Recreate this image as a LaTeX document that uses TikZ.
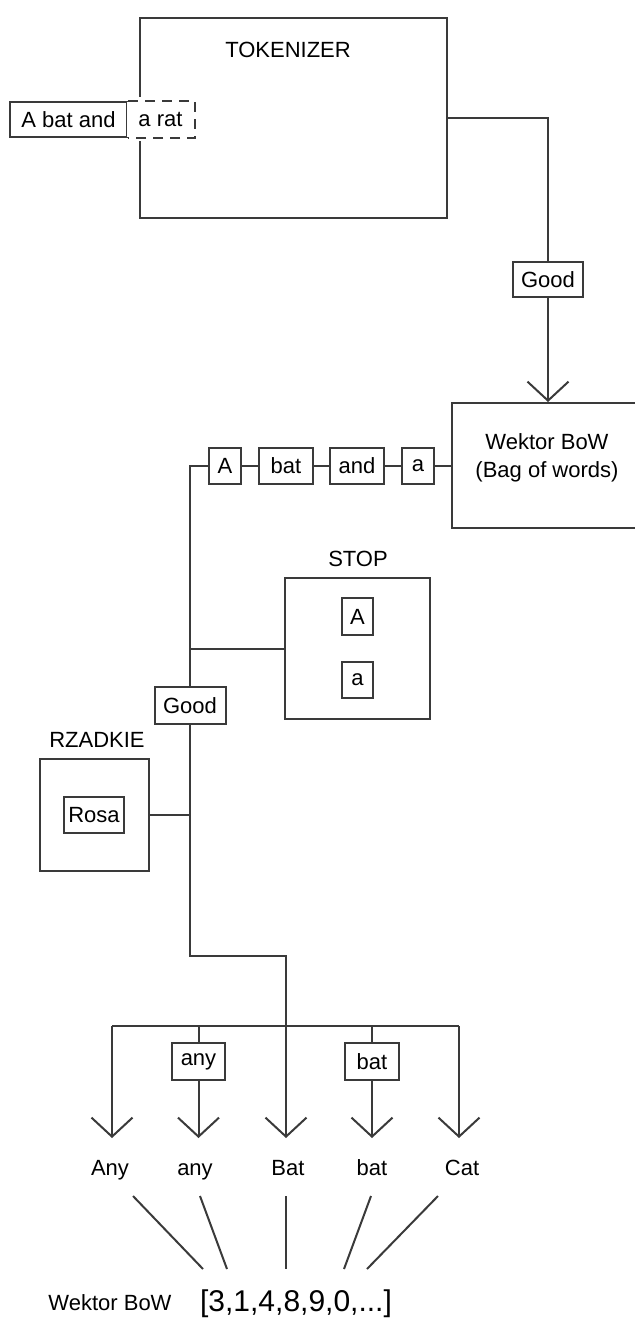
\documentclass[tikz,border=0pt]{standalone}
\usepackage{fontspec}
\setmainfont{Liberation Sans}
\usetikzlibrary{arrows.meta}
\definecolor{lc}{HTML}{3A3A3A}
\begin{document}
\begin{tikzpicture}[x=0.5pt,y=-0.5pt,line width=1pt,
  every node/.style={font=\fontsize{11}{14}\selectfont,text=black},
  box/.style={draw=lc,inner sep=0pt,fill=white},
  sz/.style 2 args={minimum width={#1*0.5pt},minimum height={#2*0.5pt}},
  wire/.style={draw=lc,line width=1pt},
  word/.style={anchor=base},
  arr/.style={wire,-{Straight Barb[length=9.5pt,width=20.5pt,line width=1pt]}}]
\useasboundingbox (0,0) rectangle (635,1318);
% tokenizer
\node[box,sz={307}{200}] (tok) at (293.5,118) {};
\node (tokl) at (288,50) {TOKENIZER};
\fill[white] (136,97) rectangle (144,141);
\node[box,sz={117}{35}] (inA) at (68.5,119.5) {A bat and};
\node[inner sep=0pt,fill=white,sz={67}{35}] (inB) at (160.5,119.5) {a rat};
\draw[wire,dash pattern=on 5pt off 3.5pt] (inA.north east) -- (inB.north east) -- (inB.south east) -- (inA.south east);
% path to BoW
\node[box,sz={70}{35}] (good1) at (548,279.5) {Good};
\node[box,sz={193}{125}] (bow) at (548.5,465.5) {};
\node[align=center] (bowl) at (547,458) {Wektor BoW\\(Bag of words)};
\draw[wire] (tok.east) -| (good1.north);
\draw[arr] (good1.south) -- (good1.south |- bow.north);
% chain
\node[box,sz={32}{36}] (cA) at (225,466) {A};
\node[box,sz={54}{36}] (cbat) at (286,466) {bat};
\node[box,sz={54}{36}] (cand) at (357,466) {and};
\node[box,sz={32}{36}] (ca) at (418,466) {a};
\draw[wire] (bow.west |- ca.east) -- (ca.east);
\draw[wire] (ca.west) -- (cand.east);
\draw[wire] (cand.west) -- (cbat.east);
\draw[wire] (cbat.west) -- (cA.east);
% STOP
\node[box,sz={145}{141}] (stop) at (357.5,648.5) {};
\node (stopl) at (358,559) {STOP};
\node[box,sz={31}{37}] (sA) at (357.5,616.5) {A};
\node[box,sz={31}{36}] (sa) at (357.5,680) {a};
\node[box,sz={71}{37}] (good2) at (190,705.5) {Good};
\draw[wire] (cA.west) -| (good2.north);
\draw[wire] (stop.west) -- (stop.west -| good2.north);
% RZADKIE
\node[box,sz={109}{112}] (rz) at (94.5,815) {};
\node (rzl) at (97,740) {RZADKIE};
\node[box,sz={60}{36}] (rosa) at (94,815) {Rosa};
\draw[wire] (rz.east) -- (rz.east -| good2.south);
% trunk
\coordinate (j1) at (286,956);
\coordinate (bar) at (286,1026);
\coordinate (bl) at (112,1026);
\coordinate (br) at (459,1026);
\draw[wire] (good2.south) |- (j1) -- (bar);
\draw[wire] (bl) -- (br);
\node[box,sz={53}{37}] (anyb) at (198.5,1061.5) {any};
\node[box,sz={54}{37}] (batb) at (372,1061.5) {bat};
\coordinate (t1) at (112,1138);
\coordinate (t2) at (198.5,1138);
\coordinate (t3) at (286,1138);
\coordinate (t4) at (372,1138);
\coordinate (t5) at (459,1138);
\draw[arr] (bl) -- (t1);
\draw[wire] (anyb.north) -- (anyb.north |- bar);
\draw[arr] (anyb.south) -- (t2);
\draw[arr] (bar) -- (t3);
\draw[wire] (batb.north) -- (batb.north |- bar);
\draw[arr] (batb.south) -- (t4);
\draw[arr] (br) -- (t5);
% words
\node[word] (w1) at (110,1175) {Any};
\node[word] (w2) at (195,1175) {any};
\node[word] (w3) at (288,1175) {Bat};
\node[word] (w4) at (372,1175) {bat};
\node[word] (w5) at (462,1175) {Cat};
% vector
\node[word] (vecl) at (110,1310) {Wektor BoW};
\node[word,font=\fontsize{15}{18}\selectfont] (vec) at (296,1311) {[3,1,4,8,9,0,...]};
\coordinate (a1) at (133,1196); \coordinate (b1) at (203,1269);
\coordinate (a2) at (200,1196); \coordinate (b2) at (227,1269);
\coordinate (a3) at (286,1196); \coordinate (b3) at (286,1269);
\coordinate (a4) at (371,1196); \coordinate (b4) at (344,1269);
\coordinate (a5) at (438,1196); \coordinate (b5) at (367,1269);
\draw[wire] (a1) -- (b1);
\draw[wire] (a2) -- (b2);
\draw[wire] (a3) -- (b3);
\draw[wire] (a4) -- (b4);
\draw[wire] (a5) -- (b5);
\end{tikzpicture}
\end{document}
